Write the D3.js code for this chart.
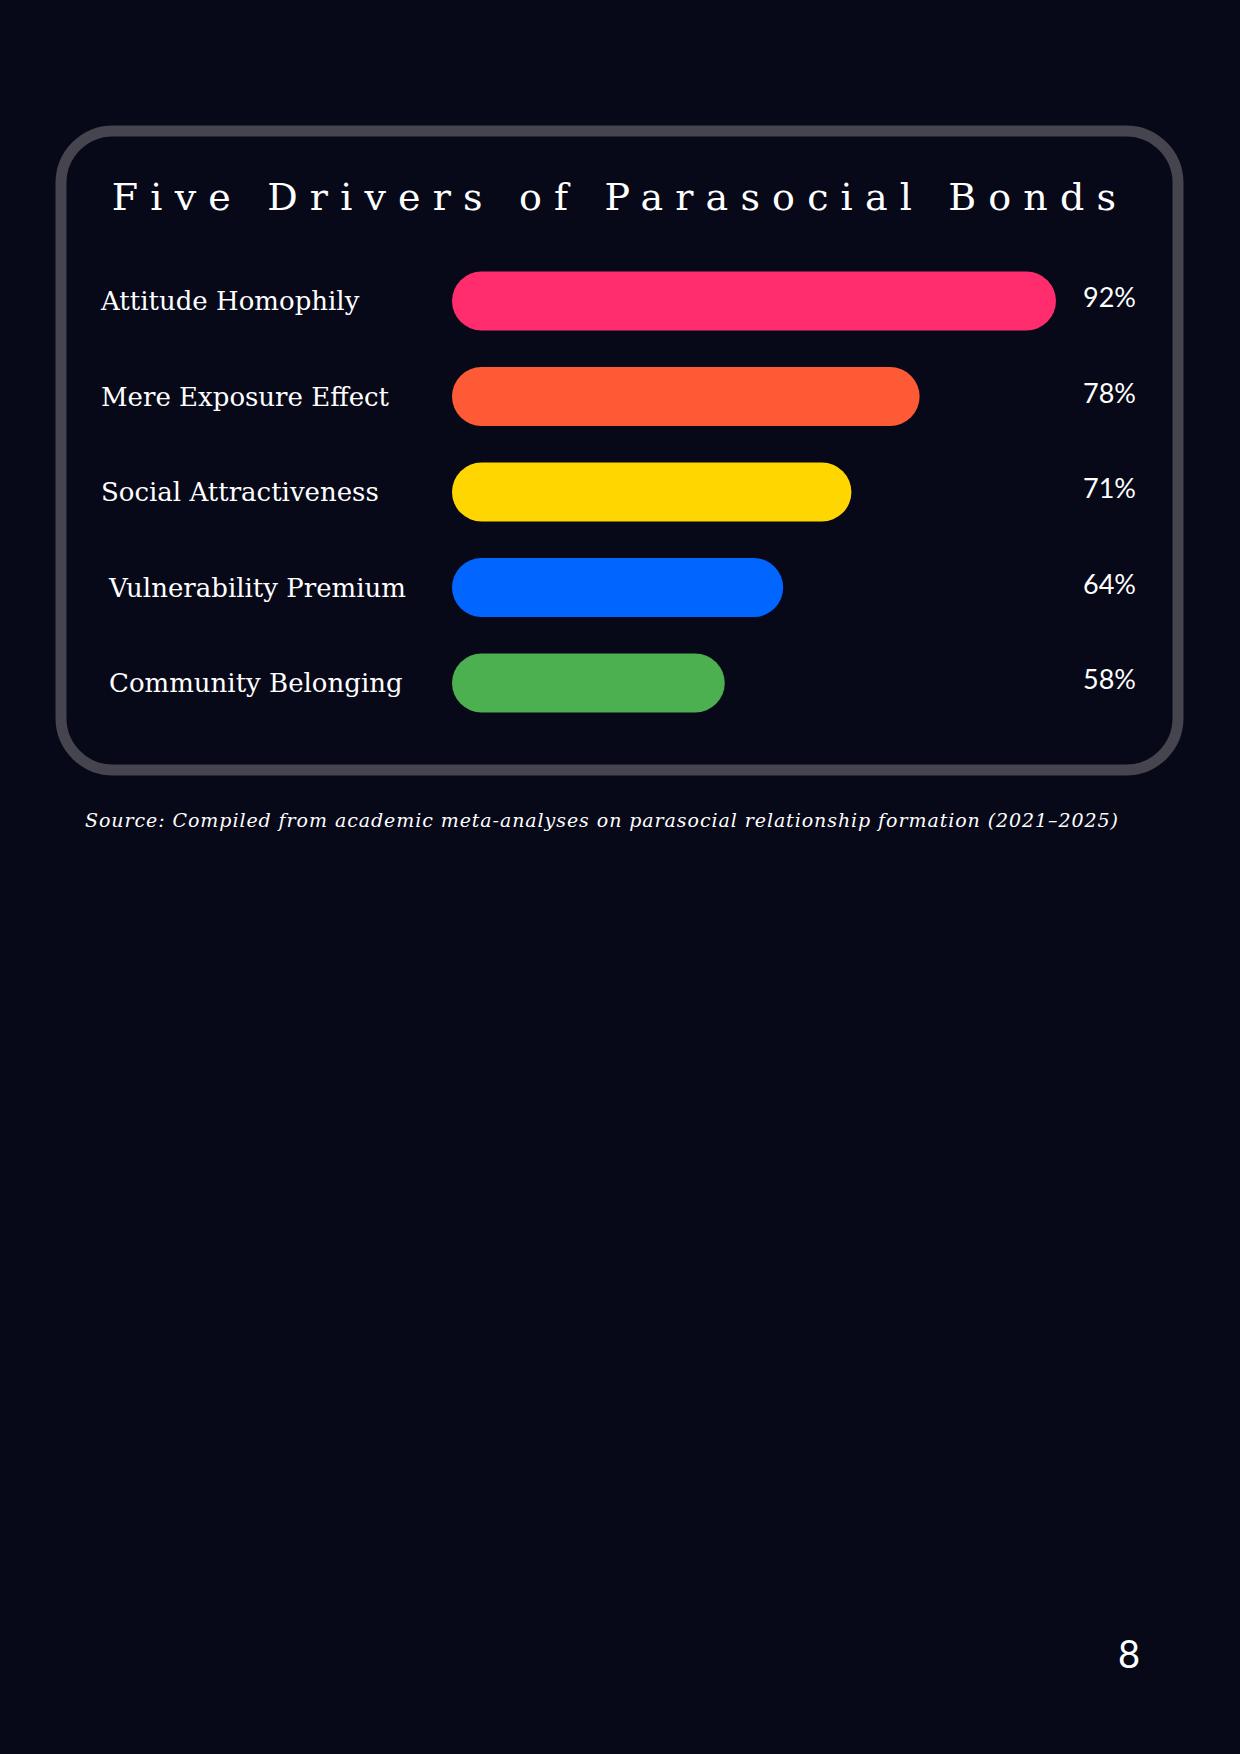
<!DOCTYPE html>
<html><head><meta charset="utf-8">
<script src="https://cdn.jsdelivr.net/npm/d3@7"></script>
<style>body{margin:0;background:#070818;}</style>
</head><body>
<script>
const categories = ["Attitude Homophily","Mere Exposure Effect","Social Attractiveness","Vulnerability Premium","Community Belonging"];
const values = [92,78,71,64,58];
const colors = ["#ff2d6d","#ff5a36","#ffd600","#0066ff","#4caf50"];
const title = "Five Drivers of Parasocial Bonds";
const source = "Source: Compiled from academic meta-analyses on parasocial relationship formation (2021–2025)";

const W=1240,H=1754;
const svg=d3.select("body").append("svg").attr("width",W).attr("height",H);
svg.append("rect").attr("width",W).attr("height",H).attr("fill","#070818");
svg.append("rect").attr("x",61).attr("y",131).attr("width",1117).attr("height",639)
  .attr("rx",52).attr("fill","#070818").attr("stroke","#45444f").attr("stroke-width",11);
svg.append("text").attr("x",620).attr("y",210).attr("text-anchor","middle")
  .attr("fill","#fff").attr("font-family","DejaVu Serif").attr("font-size",38)
  .attr("letter-spacing","0.32em").text(title);

const x=d3.scaleLinear().domain([30,92]).range([0,604]);
const y=d3.scalePoint().domain(categories).range([301,683]);
const x0=452, bh=59;
const g=svg.append("g");
categories.forEach((c,i)=>{
  const cy=y(c);
  g.append("rect").attr("x",x0).attr("y",cy-bh/2).attr("width",x(values[i])).attr("height",bh)
   .attr("rx",bh/2).attr("fill",colors[i]);
  g.append("text").attr("x",i>=3?109:101).attr("y",cy+9).attr("fill","#fff")
   .attr("font-family","DejaVu Serif").attr("font-size",26).text(c);
  g.append("text").attr("x",1136).attr("y",cy+6).attr("text-anchor","end").attr("fill","#fff")
   .attr("font-family","Lato").attr("font-size",27).text(values[i]+"%");
});
svg.append("text").attr("x",85).attr("y",827).attr("fill","#fff").attr("font-style","italic")
  .attr("font-family","DejaVu Serif").attr("font-size",19).attr("textLength",1033).text(source);
svg.append("text").attr("x",1129).attr("y",1668).attr("text-anchor","middle").attr("fill","#fff")
  .attr("font-family","Lato").attr("font-size",38).text("8");
</script>
</body></html>
